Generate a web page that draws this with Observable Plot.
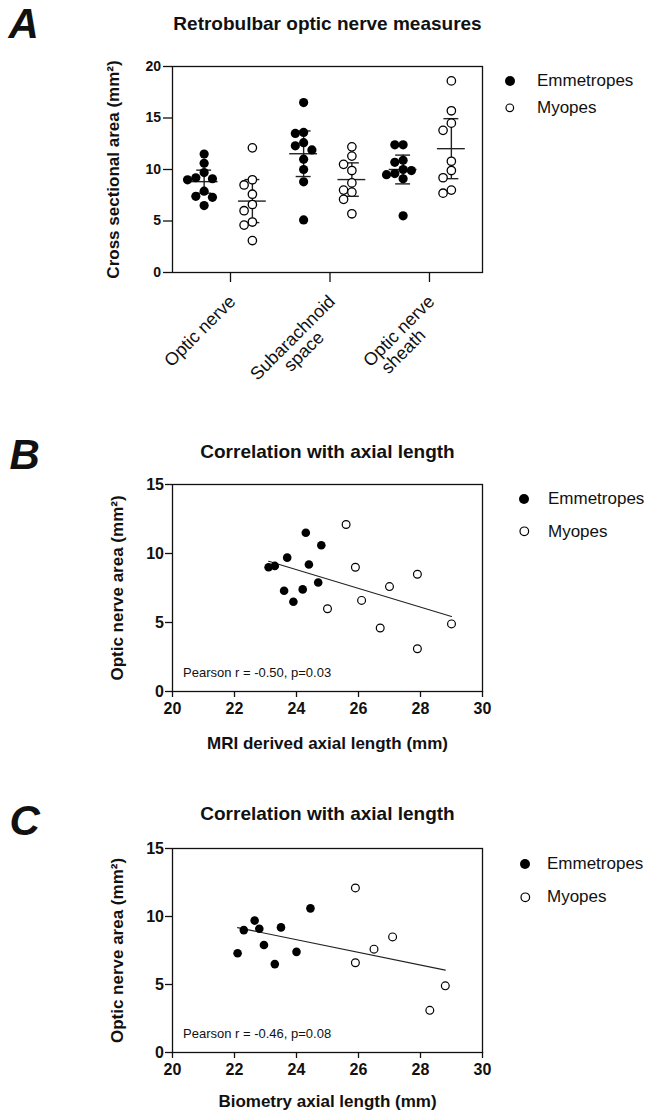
<!DOCTYPE html>
<html>
<head>
<meta charset="utf-8">
<script src="https://cdn.jsdelivr.net/npm/d3@7"></script>
<script src="https://cdn.jsdelivr.net/npm/@observablehq/plot@0.6"></script>
<style>
  html, body { margin: 0; padding: 0; background: #fff; }
  #page { position: relative; width: 645px; height: 1114px; background: #fff; overflow: hidden;
          font-family: "Liberation Sans", Arial, Helvetica, sans-serif; color: #111; }
  .panel { position: absolute; left: 0; }
  .panel svg { overflow: visible; display: block; }
  .leg-dot { position: absolute; overflow: visible; }
  .leg-text { position: absolute; font-size: 17px; line-height: 20px; white-space: nowrap; color: #111; }
</style>
</head>
<body>
<div id="page">
  <div id="panelA" class="panel" style="top:0px"></div>
  <div id="panelB" class="panel" style="top:430px"></div>
  <div id="panelC" class="panel" style="top:800px"></div>
</div>
<script>
// ---------------- DATA ----------------
const groups = ["Emmetropes", "Myopes"];
const measures = ["Optic nerve", "Subarachnoid\nspace", "Optic nerve\nsheath"];

// Panel A: cross sectional areas (mm²)
const emmOpticNerve   = [11.5, 10.6, 9.7, 9.2, 9.1, 9.0, 7.9, 7.4, 7.3, 6.5];
const myoOpticNerve   = [12.1, 9.0, 8.5, 7.6, 6.6, 6.0, 4.9, 4.6, 3.1];
const emmSubarachnoid = [16.5, 13.6, 13.5, 12.6, 12.3, 11.9, 11.0, 10.0, 8.8, 5.1];
const myoSubarachnoid = [12.2, 11.3, 10.5, 9.9, 8.7, 8.0, 7.8, 7.1, 5.7];
const emmSheath       = [12.4, 12.4, 10.9, 10.7, 10.0, 9.9, 9.6, 9.5, 9.1, 5.5];
const myoSheath       = [18.6, 15.7, 14.5, 13.8, 10.8, 9.9, 9.2, 8.0, 7.7];
const yTicksA = [0, 5, 10, 15, 20];

// Panel B: MRI derived axial length vs optic nerve area
const mriEmmAxial = [23.1, 23.3, 23.7, 23.6, 23.9, 24.2, 24.3, 24.4, 24.7, 24.8];
const mriEmmArea  = [9.0, 9.1, 9.7, 7.3, 6.5, 7.4, 11.5, 9.2, 7.9, 10.6];
const mriMyoAxial = [25.0, 25.6, 25.9, 26.1, 26.7, 27.0, 27.9, 27.9, 29.0];
const mriMyoArea  = [6.0, 12.1, 9.0, 6.6, 4.6, 7.6, 8.5, 3.1, 4.9];

// Panel C: biometry axial length vs optic nerve area
const bioEmmAxial = [22.1, 22.3, 22.65, 22.8, 22.95, 23.3, 23.5, 24.0, 24.45];
const bioEmmArea  = [7.3, 9.0, 9.7, 9.1, 7.9, 6.5, 9.2, 7.4, 10.6];
const bioMyoAxial = [25.9, 25.9, 26.5, 27.1, 28.3, 28.8];
const bioMyoArea  = [12.1, 6.6, 7.6, 8.5, 3.1, 4.9];

const xTicksBC = [20, 22, 24, 26, 28, 30];
const yTicksBC = [0, 5, 10, 15];

const titleA = "Retrobulbar optic nerve measures";
const titleBC = "Correlation with axial length";
const yLabelA = "Cross sectional area (mm²)";
const yLabelBC = "Optic nerve area (mm²)";
const xLabelB = "MRI derived axial length (mm)";
const xLabelC = "Biometry axial length (mm)";
const statB = "Pearson r = -0.50, p=0.03";
const statC = "Pearson r = -0.46, p=0.08";

// ---------------- HELPERS ----------------
const FONT = '"Liberation Sans", Arial, Helvetica, sans-serif';
const INK = "#111";
const tCrit = {8: 2.306, 9: 2.262};

// simple beeswarm: offsets (px) so that dots do not overlap
function swarm(values, pxPerY, step, minDist) {
  const order = d3.range(values.length).sort((a, b) => values[b] - values[a]);
  const placed = [];
  const offs = new Array(values.length);
  for (const i of order) {
    const py = values[i] * pxPerY;
    for (let k = 0; k < 40; k++) {
      const c = k === 0 ? 0 : (k % 2 ? -Math.ceil(k / 2) * step : Math.ceil(k / 2) * step);
      if (placed.every(p => Math.hypot(p.x - c, p.y - py) >= minDist)) {
        offs[i] = c; placed.push({x: c, y: py}); break;
      }
    }
  }
  return offs;
}

// ---------------- PANEL A ----------------
const A = {top: 66, frameH: 206, height: 390, left: 172, right: 163};
const xDomainA = [-0.583, 2.533];
const pxX = (645 - A.left - A.right) / (xDomainA[1] - xDomainA[0]);
const pxY = A.frameH / 20;
const groupShift = {Emmetropes: -0.265, Myopes: 0.22};
const seriesA = [
  [emmOpticNerve, myoOpticNerve],
  [emmSubarachnoid, myoSubarachnoid],
  [emmSheath, myoSheath]
];
const pointsA = [], summaryA = [];
seriesA.forEach((pair, i) => pair.forEach((vals, g) => {
  const group = groups[g];
  const cx = i + groupShift[group];
  const offs = swarm(vals, pxY, 8.3, 8.3);
  vals.forEach((v, k) => pointsA.push({group, value: v, px: cx + offs[k] / pxX}));
  const n = vals.length, mean = d3.mean(vals), sd = d3.deviation(vals);
  const h = tCrit[n - 1] * sd / Math.sqrt(n);
  summaryA.push({cx, mean, lo: mean - h, hi: mean + h});
}));
const firstLines = measures.map((m, idx) => ({idx, text: m.split("\n")[0]}));
const secondLines = measures.map((m, idx) => ({idx, text: m.split("\n")[1]})).filter(d => d.text);

const plotA = Plot.plot({
  width: 645, height: A.height,
  marginTop: A.top, marginBottom: A.height - A.top - A.frameH, marginLeft: A.left, marginRight: A.right,
  x: {domain: xDomainA},
  y: {domain: [0, 20]},
  style: {fontFamily: FONT, fontSize: "14px", fontWeight: "bold", color: INK, background: "transparent", overflow: "visible"},
  marks: [
    Plot.frame({stroke: INK, strokeWidth: 1.3}),
    Plot.axisY({ticks: yTicksA, tickSize: 9, tickPadding: 2.5, label: null, strokeWidth: 1.3}),
    Plot.axisX({ticks: [0, 1, 2], tickSize: 10, tickFormat: () => "", label: null, strokeWidth: 1.3}),
    Plot.text(firstLines, {x: "idx", text: "text", frameAnchor: "bottom", rotate: -45, textAnchor: "end",
      lineAnchor: "middle", dx: 2, dy: 26, fontSize: 18, fontWeight: "normal"}),
    Plot.text(secondLines, {x: "idx", text: "text", frameAnchor: "bottom", rotate: -45, textAnchor: "middle",
      lineAnchor: "middle", dx: -26, dy: 79, fontSize: 18, fontWeight: "normal"}),
    Plot.ruleX(summaryA, {x: "cx", y1: "lo", y2: "hi", stroke: "#222", strokeWidth: 1.4}),
    Plot.ruleY(summaryA, {y: "mean", x1: d => d.cx - 0.14, x2: d => d.cx + 0.14, stroke: "#222", strokeWidth: 1.4}),
    Plot.ruleY(summaryA, {y: "lo", x1: d => d.cx - 0.075, x2: d => d.cx + 0.075, stroke: "#222", strokeWidth: 1.4}),
    Plot.ruleY(summaryA, {y: "hi", x1: d => d.cx - 0.075, x2: d => d.cx + 0.075, stroke: "#222", strokeWidth: 1.4}),
    Plot.dot(pointsA.filter(d => d.group === "Emmetropes"), {x: "px", y: "value", r: 4.6, fill: "#000"}),
    Plot.dot(pointsA.filter(d => d.group === "Myopes"), {x: "px", y: "value", r: 4.2, fill: "#fff", stroke: "#000", strokeWidth: 1.3}),
    Plot.text([titleA], {frameAnchor: "top", lineAnchor: "middle", dy: -42.6, fontSize: 19, fontWeight: "bold"}),
    Plot.text(["A"], {frameAnchor: "top-left", textAnchor: "start", lineAnchor: "middle", dx: -164, dy: -42.4,
      fontSize: 42, fontWeight: "bold", fontStyle: "italic"}),
    Plot.text([yLabelA], {frameAnchor: "left", rotate: -90, textAnchor: "middle", lineAnchor: "middle", dx: -59.4,
      fontSize: 17, fontWeight: "bold"})
  ]
});
document.getElementById("panelA").append(plotA);

// ---------------- PANELS B & C ----------------
function scatterPanel(o) {
  const pts = [
    ...o.emmX.map((x, i) => ({group: "Emmetropes", x, y: o.emmY[i]})),
    ...o.myoX.map((x, i) => ({group: "Myopes", x, y: o.myoY[i]}))
  ];
  return Plot.plot({
    width: 645, height: o.height,
    marginTop: o.top, marginBottom: o.height - o.top - o.frameH, marginLeft: 172, marginRight: 163,
    x: {domain: [20, 30]},
    y: {domain: [0, 15]},
    style: {fontFamily: FONT, fontSize: "16px", fontWeight: "bold", color: INK, background: "transparent", overflow: "visible"},
    marks: [
      Plot.frame({stroke: INK, strokeWidth: 1.3}),
      Plot.axisX({ticks: xTicksBC, tickSize: 6, tickPadding: 5, label: null, strokeWidth: 1.3}),
      Plot.axisY({ticks: yTicksBC, tickSize: 7, tickPadding: 1.5, label: null, strokeWidth: 1.3}),
      Plot.linearRegressionY(pts, {x: "x", y: "y", ci: 0, stroke: "#222", strokeWidth: 1.1}),
      Plot.dot(pts.filter(d => d.group === "Emmetropes"), {x: "x", y: "y", r: 4.3, fill: "#000"}),
      Plot.dot(pts.filter(d => d.group === "Myopes"), {x: "x", y: "y", r: 3.9, fill: "#fff", stroke: "#000", strokeWidth: 1.2}),
      Plot.text([o.stat], {frameAnchor: "bottom-left", textAnchor: "start", lineAnchor: "middle", dx: 10.5, dy: -19,
        fontSize: 13, fontWeight: "normal"}),
      Plot.text([o.title], {frameAnchor: "top", lineAnchor: "middle", dy: o.titleDy, fontSize: 19, fontWeight: "bold"}),
      Plot.text([o.letter], {frameAnchor: "top-left", textAnchor: "start", lineAnchor: "middle", dx: -163, dy: o.letterDy,
        fontSize: 42, fontWeight: "bold", fontStyle: "italic"}),
      Plot.text([o.xLabel], {frameAnchor: "bottom", lineAnchor: "middle", dy: o.xLabelDy, fontSize: 17, fontWeight: "bold"}),
      Plot.text([yLabelBC], {frameAnchor: "left", rotate: -90, textAnchor: "middle", lineAnchor: "middle", dx: -55,
        fontSize: 17, fontWeight: "bold"})
    ]
  });
}

document.getElementById("panelB").append(scatterPanel({
  emmX: mriEmmAxial, emmY: mriEmmArea, myoX: mriMyoAxial, myoY: mriMyoArea,
  height: 330, top: 54, frameH: 207, title: titleBC, letter: "B", xLabel: xLabelB, stat: statB,
  titleDy: -32.1, letterDy: -29.4, xLabelDy: 51.6
}));
document.getElementById("panelC").append(scatterPanel({
  emmX: bioEmmAxial, emmY: bioEmmArea, myoX: bioMyoAxial, myoY: bioMyoArea,
  height: 314, top: 48, frameH: 204, title: titleBC, letter: "C", xLabel: xLabelC, stat: statC,
  titleDy: -34.1, letterDy: -27.4, xLabelDy: 48.6
}));

// ---------------- LEGENDS ----------------
const page = document.getElementById("page");
function legend(dotX, textX, rowsY, rFill, rOpen) {
  groups.forEach((g, i) => {
    const y = rowsY[i];
    const filled = g === "Emmetropes";
    const r = filled ? rFill : rOpen;
    const svg = d3.create("svg").attr("class", "leg-dot")
      .attr("width", 2 * r + 4).attr("height", 2 * r + 4)
      .style("left", (dotX - r - 2) + "px").style("top", (y - r - 2) + "px");
    svg.append("circle").attr("cx", r + 2).attr("cy", r + 2).attr("r", r)
      .attr("fill", filled ? "#000" : "#fff").attr("stroke", filled ? "none" : "#000").attr("stroke-width", 1.2);
    page.append(svg.node());
    const t = document.createElement("div");
    t.className = "leg-text";
    t.textContent = g;
    t.style.left = textX + "px";
    t.style.top = (y - 9.8) + "px";
    page.append(t);
  });
}
legend(510, 537, [80.7, 107.8], 5, 3.8);
legend(524, 548, [499, 531.5], 5, 4.3);
legend(525, 547, [864, 897], 5, 4.3);
</script>
</body>
</html>
